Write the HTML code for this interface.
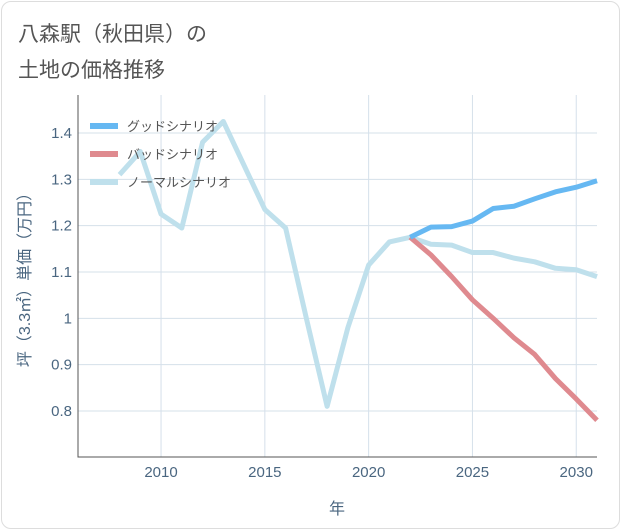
<!DOCTYPE html>
<html><head><meta charset="utf-8"><style>
body{margin:0;background:#fff;font-family:"Liberation Sans","Noto Sans CJK JP",sans-serif}
#wrap{position:relative;width:621px;height:530px}
.title{position:absolute;left:18px;font-size:21px;color:#555}
</style></head><body>
<div id="wrap">
<div style="position:absolute;left:1px;top:1px;width:617px;height:526px;border:1px solid #ddd;border-radius:10px"></div>
<div class="title" style="top:18px">八森駅（秋田県）の</div>
<div class="title" style="top:54px">土地の価格推移</div>
<svg id="c" width="621" height="530" style="position:absolute;left:0;top:0"></svg>
</div>
<script>
const years=[2008,2009,2010,2011,2012,2013,2014,2015,2016,2017,2018,2019,2020,2021,2022,2023,2024,2025,2026,2027,2028,2029,2030,2031];
const normal=[1.31,1.36,1.225,1.195,1.38,1.425,1.33,1.235,1.195,1.0,0.81,0.98,1.115,1.165,1.175,1.16,1.158,1.142,1.142,1.13,1.122,1.108,1.105,1.09];
const goodYears=[2022,2023,2024,2025,2026,2027,2028,2029,2030,2031];
const good=[1.175,1.197,1.198,1.21,1.237,1.242,1.258,1.273,1.283,1.297];
const bad=[1.175,1.137,1.09,1.04,1.0,0.958,0.922,0.87,0.826,0.78];
const xTicks=[2010,2015,2020,2025,2030];
const yTicks=[0.8,0.9,1.0,1.1,1.2,1.3,1.4];
const yLabels=["0.8","0.9","1","1.1","1.2","1.3","1.4"];
const L=78,R=597,T=95,B=457;
const x=v=>L+(v-2006)*(R-L)/25;
const y=v=>411+(0.8-v)*463.3;
const s=document.getElementById('c'),NS='http://www.w3.org/2000/svg';
function el(t,a,txt){const e=document.createElementNS(NS,t);for(const k in a)e.setAttribute(k,a[k]);if(txt!=null)e.textContent=txt;s.appendChild(e);return e;}
xTicks.forEach(t=>{const g=el('line',{x1:x(t),x2:x(t),y1:T,y2:B,stroke:'#d5e0ea'});

const l=el('text',{x:x(t),y:477,'text-anchor':'middle','font-size':15,fill:'#4a6680'},t);
});
yTicks.forEach((t,i)=>{const g=el('line',{x1:L,x2:R,y1:y(t),y2:y(t),stroke:'#d5e0ea'});

const l=el('text',{x:72,y:y(t)+5,'text-anchor':'end','font-size':15,fill:'#4a6680'},yLabels[i]);
});
const ax=el('path',{d:`M${L} ${T}V${B}H${R}`,stroke:'#555',fill:'none'});

function line(xs,vs,c,n){const p=el('polyline',{points:xs.map((v,i)=>x(v)+','+y(vs[i])).join(' '),fill:'none',stroke:c,'stroke-width':5,'stroke-linejoin':'round'});
}
line(years,normal,'#bfe0ec','normal-scenario-line');
line(goodYears,bad,'#df8a8f','bad-scenario-line');
line(goodYears,good,'#66b8f2','good-scenario-line');
const lg=[['グッドシナリオ','#66b8f2'],['バッドシナリオ','#df8a8f'],['ノーマルシナリオ','#bfe0ec']];
lg.forEach((d,i)=>{const yy=126+i*28;
const a=el('line',{x1:90,x2:118,y1:yy,y2:yy,stroke:d[1],'stroke-width':6});

const t=el('text',{x:127,y:yy+5,'font-size':13,fill:'#555'},d[0]);
});
const xt=el('text',{x:337,y:514,'text-anchor':'middle','font-size':16,fill:'#4a6680'},'年');

const yt=el('text',{x:0,y:0,'text-anchor':'middle','font-size':16,fill:'#4a6680',transform:'translate(30,276) rotate(-90)'},'坪（3.3㎡）単価（万円）');

</script>
</body></html>
